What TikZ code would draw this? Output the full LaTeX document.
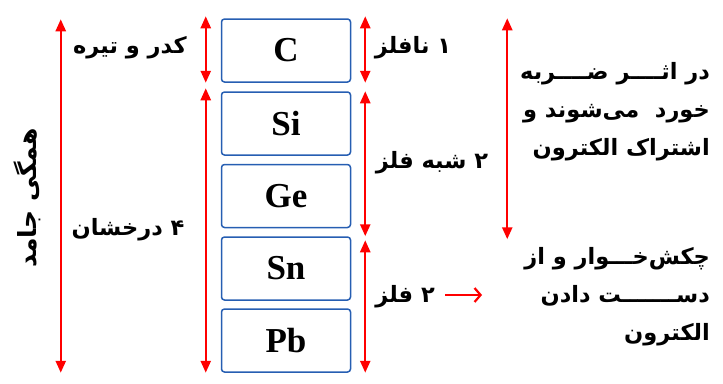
\documentclass[tikz,border=0pt]{standalone}
\usepackage{fontspec}
\setmainfont{Liberation Serif}
\newfontfamily\arabicfont[Script=Arabic]{DejaVu Sans}
\TeXXeTstate=1
\usetikzlibrary{arrows.meta}
\definecolor{elemblue}{RGB}{38,94,178}

\begin{document}
\begin{tikzpicture}[
    x=1pt, y=-1pt,
    elem/.style={
        rectangle, draw=elemblue, line width=1.5pt, rounded corners=3pt,
        minimum width=129pt, minimum height=63pt, inner sep=0pt,
        font=\fontsize{35}{35}\selectfont\bfseries
    },
    span/.style={
        red, line width=2.4pt,
        {Triangle[length=12pt,width=10pt]}-{Triangle[length=12pt,width=10pt]}
    },
    fa/.style={font=\arabicfont\bfseries\fontsize{22.5}{38}\selectfont, inner sep=0pt},
]
\useasboundingbox (0,0) rectangle (723,383);

% group 14 elements
\node[elem] (C)  at (286, 50.5)  {C};
\node[elem] (Si) at (286, 123.5) {Si};
\node[elem] (Ge) at (286, 196)   {Ge};
\node[elem] (Sn) at (286, 268.5) {Sn};
\node[elem] (Pb) at (286, 340.5) {Pb};

% left side spans
\draw[span] ([xshift=-160pt, yshift=-1pt]C.north west) -- ([xshift=-160pt]Pb.south west);
\draw[span] ([xshift=-15pt, yshift=2pt]C.north west) -- ([xshift=-15pt]C.south west);
\draw[span] ([xshift=-15pt, yshift=3pt]Si.north west) -- ([xshift=-15pt]Pb.south west);

\node[fa, rotate=90, font=\arabicfont\bfseries\fontsize{25}{30}\selectfont] (jamed) at (27, 198) {\beginR همگی جامد\endR};
\node[fa] (kedr)  at (130, 48)  {\beginR کدر و تیره\endR};
\node[fa] (derak) at (128, 230) {\beginR ۴ درخشان\endR};

% right side spans
\draw[span] ([xshift=14pt, yshift=2pt]C.north east) -- ([xshift=14pt]C.south east);
\draw[span] ([xshift=14pt]Si.north east) -- ([xshift=14pt, yshift=-8pt]Ge.south east);
\draw[span] ([xshift=14pt, yshift=-4pt]Sn.north east) -- ([xshift=14pt]Pb.south east);

\node[fa] (nafelez) at (413, 48)  {\beginR ۱ نافلز\endR};
\node[fa] (shebh)   at (432, 163) {\beginR ۲ شبه فلز\endR};
\node[fa] (felez)   at (405, 297) {\beginR ۲ فلز\endR};

% far right notes
\draw[span] ([xshift=156pt]C.north east) -- ([xshift=156pt, yshift=-11pt]Ge.south east);
\node[fa, anchor=east, align=right] (zarbe) at (710, 112)
    {\beginR در اثــــر ضــــربه\endR\\\beginR خورد \ می‌شوند و\endR\\\beginR اشتراک الکترون\endR};
\node[fa, anchor=east, align=right] (chakosh) at (710, 297)
    {\beginR چکش‌خـــوار و از\endR\\\beginR دســـــــت دادن\endR\\\beginR الکترون\endR};

\coordinate (felezR) at (445, 295);
\draw[red, line width=2.2pt, -{Straight Barb[length=6pt,width=14pt]}] (felezR) -- ++(37,0);

\end{tikzpicture}
\end{document}
